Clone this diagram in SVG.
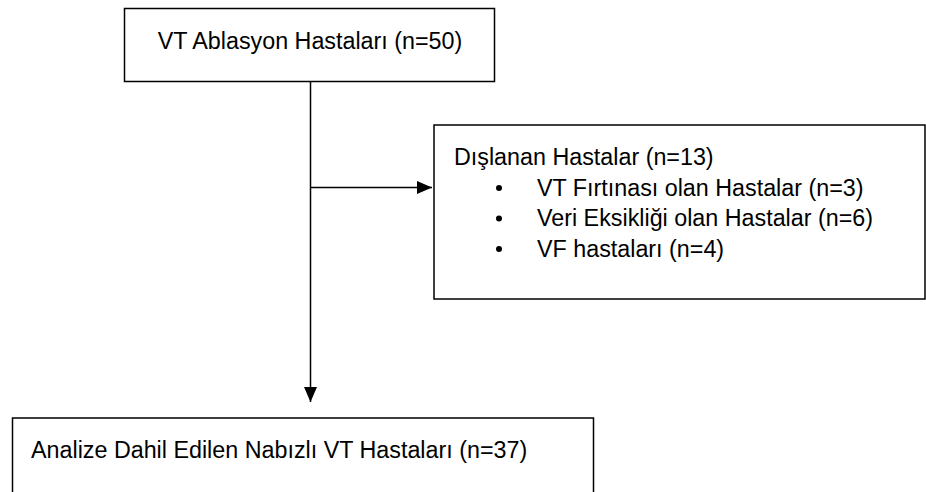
<svg xmlns="http://www.w3.org/2000/svg" width="926" height="492" viewBox="0 0 926 492">
<defs>
<style>
.box{fill:#fff;stroke:#000;stroke-width:1.5}
.t{font-family:"Liberation Sans",Arial,sans-serif;font-size:23.3px;fill:#000}
.ln{stroke:#000;stroke-width:1.5;fill:none}
</style>
<marker id="ah" markerUnits="userSpaceOnUse" markerWidth="15" markerHeight="13" refX="15" refY="6.5" orient="auto">
<path d="M0,0 L15,6.5 L0,13 Z" fill="#000"/>
</marker>
</defs>
<rect width="926" height="492" fill="#fff"/>
<g id="connectors">
<line class="ln" x1="310.5" y1="82" x2="310.5" y2="402" marker-end="url(#ah)"/>
<line class="ln" x1="310.5" y1="187.5" x2="432" y2="187.5" marker-end="url(#ah)"/>
</g>
<g id="node-ablasyon">
<rect class="box" x="124.5" y="8.5" width="370" height="73"/>
<text class="t" x="310" y="49" text-anchor="middle">VT Ablasyon Hastaları (n=50)</text>
</g>
<g id="node-dislanan">
<rect class="box" x="434" y="125" width="491" height="174"/>
<text class="t" x="454" y="165">Dışlanan Hastalar (n=13)</text>
<circle cx="499" cy="188" r="3" fill="#000"/>
<text class="t" x="537" y="195.5">VT Fırtınası olan Hastalar (n=3)</text>
<circle cx="499" cy="218.5" r="3" fill="#000"/>
<text class="t" x="537" y="226">Veri Eksikliği olan Hastalar (n=6)</text>
<circle cx="499" cy="249" r="3" fill="#000"/>
<text class="t" x="537" y="256.5">VF hastaları (n=4)</text>
</g>
<g id="node-analize">
<rect class="box" x="12.5" y="418" width="581" height="90"/>
<text class="t" x="31" y="458">Analize Dahil Edilen Nabızlı VT Hastaları (n=37)</text>
</g>
</svg>
